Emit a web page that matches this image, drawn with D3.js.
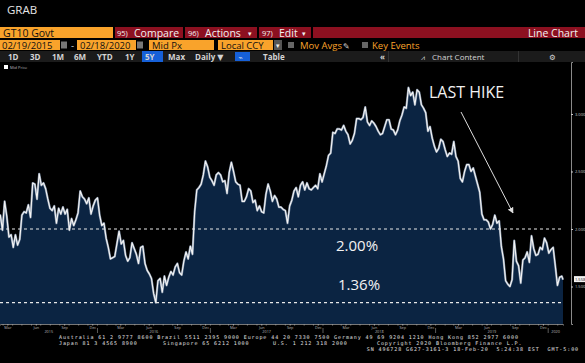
<!DOCTYPE html>
<html>
<head>
<meta charset="utf-8">
<script src="https://cdn.jsdelivr.net/npm/d3@7"></script>
<style>
  body { margin: 0; background: #000; }
  svg { display: block; }
</style>
</head>
<body>
<script>
// GT10 Govt, weekly (Friday) mid yields
const firstValue = 2.11;            // 02/19/2015
const lastValue = 1.56;             // 02/18/2020
const y2015 = [2.12,1.99,2.24,2.11,1.93,1.95,1.84,1.95,1.86,1.91,2.12,2.15,2.14,2.21,2.10,2.40,2.39,2.26,2.48,2.38,2.40,2.35,2.26,2.18,2.16,2.20,2.05,2.18,2.13,2.19,2.13,2.17,1.99,2.09,2.03,2.08,2.14,2.33,2.28,2.26,2.22,2.27,2.13,2.20,2.25];
const y2016 = [2.27,2.12,2.03,2.05,1.92,1.84,1.74,1.75,1.76,1.87,1.98,1.87,1.90,1.77,1.72,1.75,1.88,1.83,1.78,1.70,1.84,1.85,1.70,1.64,1.61,1.57,1.44,1.36,1.55,1.57,1.45,1.59,1.51,1.58,1.63,1.60,1.67,1.70,1.62,1.60,1.72,1.80,1.74,1.85,1.78,2.15,2.34,2.36,2.39,2.47,2.59,2.54,2.45];
const y2017 = [2.42,2.38,2.47,2.49,2.47,2.41,2.42,2.31,2.49,2.58,2.50,2.41,2.39,2.38,2.24,2.24,2.28,2.35,2.33,2.23,2.25,2.16,2.20,2.15,2.14,2.30,2.39,2.33,2.24,2.29,2.26,2.19,2.19,2.17,2.16,2.05,2.20,2.25,2.33,2.36,2.28,2.38,2.41,2.34,2.40,2.35,2.34,2.36,2.38,2.35,2.48,2.41];
const y2018 = [2.48,2.55,2.64,2.66,2.84,2.83,2.87,2.87,2.86,2.90,2.85,2.82,2.74,2.77,2.83,2.96,2.96,2.95,2.97,3.06,2.93,2.90,2.94,2.92,2.89,2.85,2.82,2.83,2.89,2.95,2.95,2.87,2.86,2.82,2.86,2.94,2.99,3.06,3.05,3.23,3.16,3.19,3.08,3.21,3.19,3.08,3.05,3.01,2.85,2.89,2.79,2.72];
const y2019 = [2.67,2.70,2.78,2.76,2.69,2.63,2.66,2.65,2.76,2.63,2.59,2.44,2.41,2.50,2.56,2.56,2.50,2.53,2.46,2.39,2.32,2.13,2.08,2.08,2.06,2.00,2.04,2.12,2.05,2.07,1.85,1.74,1.55,1.52,1.50,1.56,1.90,1.72,1.68,1.53,1.73,1.75,1.80,1.71,1.94,1.83,1.77,1.78,1.84,1.82,1.92,1.88];
const y2020 = [1.79,1.82,1.84,1.68,1.51,1.58,1.59];

const rightTicks = [3.0, 2.5, 2.0, 1.5];
const refLevels = [2.0, 1.36];
const refLabels = ["2.00%", "1.36%"];
const yearLabels = ["2015", "2016", "2017", "2018", "2019", "2020"];
const lastLabel = "1.558";

const startDate = new Date(2015, 1, 19), endDate = new Date(2020, 1, 18);
const fridays = d3.timeFriday.range(new Date(2015, 1, 20), new Date(2020, 1, 15));
const weekly = [].concat(y2015, y2016, y2017, y2018, y2019, y2020);
const data = [{ date: startDate, v: firstValue }]
  .concat(fridays.map((d, i) => ({ date: d, v: weekly[i] })))
  .concat([{ date: endDate, v: lastValue }]);

const W = 585, H = 363;
const svg = d3.select("body").append("svg").attr("width", W).attr("height", H);
svg.append("rect").attr("width", W).attr("height", H).attr("fill", "#000");

const sans = "'Open Sans', 'DejaVu Sans', sans-serif";
const orange = "#f9a32b", red = "#8c1020";

function box(x, y, w, h, fill) {
  return svg.append("rect").attr("x", x).attr("y", y).attr("width", w).attr("height", h).attr("fill", fill);
}
function label(x, y, t, size, fill, extra) {
  const el = svg.append("text").attr("x", x).attr("y", y).text(t)
    .attr("font-family", sans).attr("font-size", size).attr("fill", fill);
  if (extra) Object.entries(extra).forEach(([k, v]) => el.attr(k, v));
  return el;
}

// ---- header ----
label(7, 14, "GRAB", 11.5, "#e6e6e6");

// row 1
box(0, 27, 113, 11, orange);
label(3, 36.5, "GT10 Govt", 10.5, "#111");
box(115, 27, 68, 11, red);
box(185, 27, 72, 11, red);
box(259, 27, 52, 11, red);
box(313, 27, 272, 11, red);
label(117, 36, "95)", 7.5, "#f2f2f2");
label(134, 36.5, "Compare", 10.5, "#f2f2f2");
label(188, 36, "96)", 7.5, "#f2f2f2");
label(205, 36.5, "Actions", 10.5, "#f2f2f2");
label(248, 35.5, "▾", 7, "#f2f2f2");
label(262, 36, "97)", 7.5, "#f2f2f2");
label(279, 36.5, "Edit", 10.5, "#f2f2f2");
label(302, 35.5, "▾", 7, "#f2f2f2");
label(578, 36.5, "Line Chart", 10.5, "#f2f2f2", { "text-anchor": "end" });

// row 2
box(0, 40, 60, 10, orange);
label(2, 48.5, "02/19/2015", 9.5, "#111");
box(61, 41.5, 6, 7, "#777");
label(71, 48.5, "-", 9.5, "#ddd");
box(77, 40, 59, 10, orange);
label(80, 48.5, "02/18/2020", 9.5, "#111");
box(137, 41.5, 6, 7, "#777");
box(149, 40, 65, 10, orange);
label(152, 48.5, "Mid Px", 9.5, "#111");
box(218, 40, 55, 10, orange);
label(221, 48.5, "Local CCY", 9.5, "#111");
box(274, 40, 8, 10, "#555");
label(276, 48, "▾", 7, "#eee");
box(288, 42, 6, 6, "#666");
label(300, 48.5, "Mov Avgs", 9.5, orange);
label(343, 48.5, "✎", 8, "#ccc");
box(362, 42, 6, 6, "#666");
label(372, 48.5, "Key Events", 9.5, orange);

// row 3
box(0, 51, W, 11, "#1b1b1b");
box(142, 51, 21, 11, "#1660d8");
box(235, 52, 15, 9, "#1660d8");
label(238.5, 59.5, "⌁", 7, "#eee");
[["1D", 8], ["3D", 30], ["1M", 52], ["6M", 74], ["YTD", 97], ["1Y", 125], ["5Y", 145], ["Max", 168], ["Daily ▼", 195], ["Table", 263]]
  .forEach(([t, x]) => label(x, 59.5, t, 8, "#d4d4d4", { "font-weight": "bold" }));
box(388, 51, 1, 11, "#333");
box(518, 51, 1, 11, "#333");
label(380, 59.5, "«", 8, "#d4d4d4", { "font-weight": "bold" });
label(421, 59.5, "⩘", 7, "#d4d4d4");
label(432, 59.5, "Chart Content", 8, "#d4d4d4");
label(549, 59.5, "⚙", 7.5, "#d4d4d4");

// legend
box(4, 65, 4, 4, "#fff");
label(10, 69, "Mid Price", 4, "#bbb");

// ---- chart ----
const x = d3.scaleTime().domain([startDate, endDate]).range([0, 563]);
const y = d3.scaleLinear().domain([1.174, 3.452]).range([324, 62]);

svg.append("path").datum(data)
  .attr("fill", "#0b2442")
  .attr("d", d3.area().x(d => x(d.date)).y0(324).y1(d => y(d.v)));

svg.append("path").datum(data)
  .attr("fill", "none").attr("stroke", "#7d8da3").attr("stroke-width", 2.2)
  .attr("stroke-linejoin", "round")
  .attr("d", d3.line().x(d => x(d.date)).y(d => y(d.v)));
svg.append("path").datum(data)
  .attr("fill", "none").attr("stroke", "#f4f4f4").attr("stroke-width", 1.1)
  .attr("stroke-linejoin", "round")
  .attr("d", d3.line().x(d => x(d.date)).y(d => y(d.v)));

// dashed reference levels
svg.selectAll(".ref").data(refLevels).join("line")
  .attr("x1", 0).attr("x2", 563)
  .attr("y1", d => y(d)).attr("y2", d => y(d))
  .attr("stroke", "#e8e8e8").attr("stroke-width", 1.1).attr("stroke-dasharray", "3,3");

label(336, 251, refLabels[0], 15, "#f2f2f2");
label(338, 290, refLabels[1], 15, "#f2f2f2");

// right axis
const yAxis = svg.append("g").attr("transform", "translate(571,0)")
  .call(d3.axisRight(y).tickValues(rightTicks).tickFormat(d3.format(".3f")).tickSize(2).tickPadding(2));
yAxis.select(".domain").attr("stroke", "#8a8a8a");
yAxis.selectAll(".tick line").attr("stroke", "#ccc");
yAxis.selectAll(".tick text").attr("font-size", 4).attr("fill", "#ccc").attr("font-family", sans);

// last price tag
const ly = y(lastValue);
box(574, ly - 3.5, 11, 6, "#f2f2f2");
label(575, ly + 1.2, lastLabel, 4, "#111");

// bottom axis
const quarterTicks = d3.timeMonth.range(new Date(2015, 2, 1), endDate, 3).map(d => new Date(d.getFullYear(), d.getMonth(), 15));
const xAxis = svg.append("g").attr("transform", "translate(0,324)")
  .call(d3.axisBottom(x).tickValues(quarterTicks).tickFormat(d3.timeFormat("%b")).tickSize(1.5).tickPadding(1));
xAxis.select(".domain").attr("stroke", "#777");
xAxis.selectAll(".tick line").attr("stroke", "#aaa");
xAxis.selectAll(".tick text").attr("font-size", 3.8).attr("fill", "#bbb").attr("font-family", sans);

svg.selectAll(".mtick").data(d3.timeMonth.range(startDate, endDate)).join("line")
  .attr("x1", d => x(d)).attr("x2", d => x(d)).attr("y1", 324).attr("y2", 325.5)
  .attr("stroke", "#999").attr("stroke-width", 0.8);

yearLabels.forEach(yr => {
  const a = d3.max([startDate, new Date(+yr, 0, 1)]);
  const b = d3.min([endDate, new Date(+yr + 1, 0, 1)]);
  label((x(a) + x(b)) / 2, 333, yr, 3.8, "#bbb", { "text-anchor": "middle" });
  if (+yr > 2015) {
    svg.append("line").attr("x1", x(a)).attr("x2", x(a)).attr("y1", 328).attr("y2", 333)
      .attr("stroke", "#999").attr("stroke-width", 0.6);
  }
});

// annotation
label(429, 98, "LAST HIKE", 16, "#f2f2f2");
svg.append("defs").append("marker").attr("id", "ah")
  .attr("viewBox", "0 0 10 10").attr("refX", 9).attr("refY", 5)
  .attr("markerWidth", 6).attr("markerHeight", 6).attr("orient", "auto")
  .append("path").attr("d", "M0,0L10,5L0,10z").attr("fill", "#ddd");
svg.append("line").attr("x1", 461).attr("y1", 112).attr("x2", 513).attr("y2", 213)
  .attr("stroke", "#ddd").attr("stroke-width", 1).attr("marker-end", "url(#ah)");

// footer
const mono = "'DejaVu Sans Mono', monospace";
function foot(xp, yp, t, anchor) {
  svg.append("text").attr("x", xp).attr("y", yp).text(t)
    .attr("text-anchor", anchor || "start")
    .attr("xml:space", "preserve")
    .attr("font-family", mono).attr("font-size", 5).attr("letter-spacing", 0.92)
    .attr("fill", "#e2e2e2");
}
foot(59, 338.5, "Australia 61 2 9777 8600 Brazil 5511 2395 9000 Europe 44 20 7330 7500 Germany 49 69 9204 1210 Hong Kong 852 2977 6000");
foot(59, 344.5, "Japan 81 3 4565 8900");
foot(163, 344.5, "Singapore 65 6212 1000");
foot(273, 344.5, "U.S. 1 212 318 2000");
foot(377, 344.5, "Copyright 2020 Bloomberg Finance L.P.");
foot(579, 350.5, "SN 496728 G627-3161-3 18-Feb-20  5:24:38 EST  GMT-5:00", "end");
</script>
</body>
</html>
